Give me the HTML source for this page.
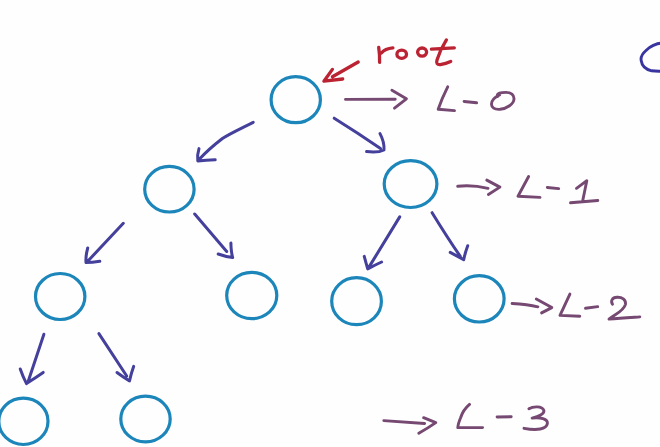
<!DOCTYPE html>
<html><head><meta charset="utf-8"><title>Tree levels</title>
<style>
html,body{margin:0;padding:0;background:#fefefe;}
body{width:660px;height:447px;overflow:hidden;font-family:"Liberation Sans",sans-serif;}
svg{display:block;}
</style></head>
<body>
<svg width="660" height="447" viewBox="0 0 660 447">
<defs><filter id="soft" x="-5%" y="-5%" width="110%" height="110%"><feGaussianBlur stdDeviation="0.45"/></filter></defs>
<rect width="660" height="447" fill="#fefefe"/>
<g filter="url(#soft)">
<!-- circles -->
<g fill="none" stroke="#1b86ba" stroke-width="3.2">
  <ellipse cx="295.75" cy="99.7" rx="24.65" ry="23"/>
  <ellipse cx="169.4" cy="189.2" rx="24.7" ry="22.8"/>
  <ellipse cx="410.55" cy="184.05" rx="26.35" ry="23.45"/>
  <ellipse cx="60.2" cy="296.5" rx="24.7" ry="23"/>
  <ellipse cx="251.75" cy="295.55" rx="25.05" ry="23.15"/>
  <ellipse cx="356.55" cy="301.2" rx="24.85" ry="23.5"/>
  <ellipse cx="479.25" cy="298.85" rx="24.85" ry="23.15"/>
  <ellipse cx="23.4" cy="421.3" rx="24.6" ry="23.2"/>
  <ellipse cx="145.5" cy="419" rx="24.7" ry="22.9"/>
</g>
<!-- tree arrows -->
<g fill="none" stroke="#44409c" stroke-width="3" stroke-linecap="round" stroke-linejoin="round">
  <path d="M253.2,122.3 C240,129 229,134 222.4,138.5 C214,145 206,152 200,158.6 M199,148.6 Q197,155 197.8,160.9 Q206,160 215.2,159.7"/>
  <path d="M334.2,118.2 Q358,133 380.5,148.5 M380,133.6 Q384.5,142 384,150 Q378,153 366.6,151.6"/>
  <path d="M123.3,223.3 L87.5,261.5 M87.7,248 Q85.5,256 86,262.6 Q92,262.5 99.8,261.3"/>
  <path d="M194.7,214 L226.7,251.5 M230.9,243.1 Q231,252 232.7,257.6 Q225,256.5 218.2,254"/>
  <path d="M399.7,216.9 Q388,236 369.1,266.9 M364.25,256.4 Q366,263 367.7,268.9 Q375,265 381.6,262"/>
  <path d="M432.1,212.7 Q447,237 460.3,256.4 M467.7,245.7 Q465,253 463.7,259.8 Q457,256 450.2,252.4"/>
  <path d="M43.9,334.25 L27.9,382.2 M20.25,369 Q23,377 26.5,383.6 Q35,378 43.2,372.4"/>
  <path d="M98.9,333.6 L126.7,376 M133.7,366.3 Q131,374 129.5,380.9 Q123,377 117,372.5"/>
</g>
<!-- partial shape top right -->
<path d="M662,43 C656,43.5 650,46.5 646,50.5 C642,54 640.5,58 641.3,61 C642,66 646,69.5 651.6,70.8 C655,71.3 659,71.3 662,71.2" fill="none" stroke="#3836a0" stroke-width="2.9" stroke-linecap="round"/>
<!-- red root -->
<g fill="none" stroke="#bb2232" stroke-width="3.3" stroke-linecap="round" stroke-linejoin="round">
  <path d="M358.2,62 L332.4,76.8 M332.4,69.4 L323.9,81.2 L342.7,79"/>
  <path d="M378.7,47.3 Q379.8,55 379.6,62.4 M381.4,53 Q385,48.5 392.9,47.8"/>
  <ellipse cx="401.7" cy="54.2" rx="4.8" ry="4.1"/>
  <ellipse cx="422.1" cy="52.1" rx="4.5" ry="4.1"/>
  <path d="M446.4,39.9 Q440,50 437,60 Q435.5,65 440.3,64.6 Q446,63.5 450.7,61.4 M431.4,49.2 L454.3,47.8"/>
</g>
<!-- purple labels -->
<g fill="none" stroke="#764872" stroke-width="2.9" stroke-linecap="round" stroke-linejoin="round">
  <path d="M345.5,99.4 L395.2,99.2 M391.9,90.3 L406.4,98.8 L394.5,108.1"/>
  <path d="M447.7,86.8 Q442,98 438.2,109.3 L454.5,110.6 M464.1,101.5 L476.6,102.8"/>
  <path d="M497.5,96.5 C496.5,93 501,92.4 506,92.4 C511,92.4 514.2,95 514,99 C513.8,104 507,108.5 500,109.3 C494.5,109.8 491.3,107.5 491.5,104 C491.7,100 495,97 499.5,95"/>

  <path d="M457.7,186.3 C470,185 478,186 488,188.3 M486.8,180.1 L499.9,187.1 L488.4,194.5"/>
  <path d="M528.6,176.5 L518,196.3 L540,197.4 M547.3,187.5 L558.7,188.6"/>
  <path d="M576.5,188.3 L586.8,180.7 L582.6,201.3 M570.5,202.8 L597.8,200.5"/>

  <path d="M512.1,303.5 C520,304 530,305 537.9,306.8 M536.3,299 L551.8,307.6 L541.6,312.9"/>
  <path d="M569.9,294.1 L560,315.4 L579.8,316.2 M585.5,308.2 L597.7,306.6"/>
  <path d="M612.5,304.3 C610.5,301 612,297.5 617,297.3 C622,297 626,299.5 625.5,304.2 C624,311 614,315 609,319.1 C620,318 630,317.5 639.8,316.9"/>

  <path d="M383.8,420.6 L424.6,423.5 M423.6,417.7 L435.8,422.6 Q428,428 418.8,433.2"/>
  <path d="M469.5,404.4 Q463,410 460.7,417.5 Q458,424 457.8,427.6 L482.6,427.6 M497.1,417 L511.2,416.7"/>
  <path d="M528.9,408.8 C533,406.3 542,405.8 543.8,410.2 C545,414 538,416.5 532.1,418.1 C540,417 548,419 547.4,423.5 C546.5,429.3 537,430.8 524,428.3"/>
</g>
</g>
</svg>
</body></html>
